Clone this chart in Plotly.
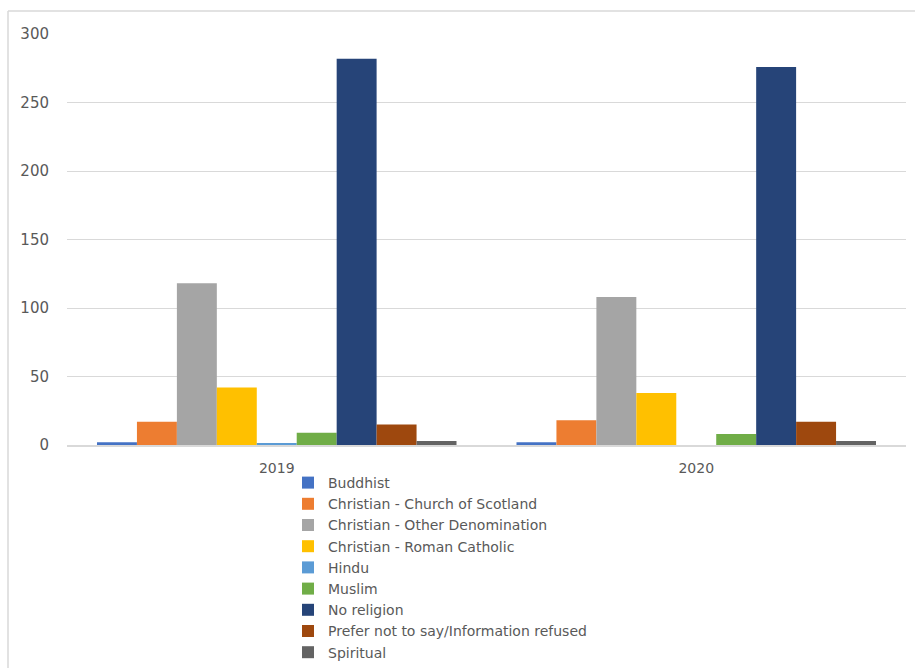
import plotly.graph_objects as go

years = ["2019", "2020"]
series_names = [
    "Buddhist",
    "Christian - Church of Scotland",
    "Christian - Other Denomination",
    "Christian - Roman Catholic",
    "Hindu",
    "Muslim",
    "No religion",
    "Prefer not to say/Information refused",
    "Spiritual",
]
buddhist = [2, 2]
church_of_scotland = [17, 18]
other_denomination = [118, 108]
roman_catholic = [42, 38]
hindu = [1.5, 0]
muslim = [9, 8]
no_religion = [282, 276]
prefer_not = [15, 17]
spiritual = [3, 3]
series_values = [buddhist, church_of_scotland, other_denomination, roman_catholic,
                 hindu, muslim, no_religion, prefer_not, spiritual]
colors = ["#4472C4", "#ED7D31", "#A5A5A5", "#FFC000", "#5B9BD5",
          "#70AD47", "#264478", "#9E480E", "#636363"]
y_ticks = [0, 50, 100, 150, 200, 250, 300]

fig = go.Figure()
for name, vals, col in zip(series_names, series_values, colors):
    fig.add_trace(go.Bar(name=name, x=years, y=vals, marker_color=col,
                         marker_line_width=0))

W, H = 915, 668
L, R, T, B = 67, 9, 34, 223
pw, ph = W - L - R, H - T - B

def px_x(p):
    return (p - L) / pw

def px_y(p):
    return (H - B - p) / ph

fig.update_layout(
    width=W, height=H,
    margin=dict(l=L, r=R, t=T, b=B, autoexpand=False),
    paper_bgcolor="white", plot_bgcolor="white",
    barmode="group", bargap=0.143, bargroupgap=0,
    font=dict(family="DejaVu Sans, Arial, sans-serif", color="#595959", size=14),
    showlegend=True,
    legend=dict(orientation="v", x=px_x(288), y=px_y(467), xanchor="left", yanchor="top",
                font=dict(size=14, color="#595959"), traceorder="normal",
                itemwidth=30, tracegroupgap=0, bgcolor="rgba(0,0,0,0)"),
    xaxis=dict(showgrid=False, showline=True, linecolor="#D9D9D9", linewidth=2,
               ticks="outside", ticklen=9, tickcolor="rgba(0,0,0,0)",
               tickfont=dict(size=14, color="#595959")),
    yaxis=dict(range=[0, 300], tickvals=y_ticks, showgrid=True, gridcolor="#D9D9D9",
               gridwidth=1, zeroline=False, showline=False, ticks="outside",
               ticklen=14, tickcolor="rgba(0,0,0,0)",
               tickfont=dict(size=15, color="#595959")),
    shapes=[
        dict(type="line", xref="paper", yref="paper", x0=px_x(8), x1=px_x(8),
             y0=px_y(11), y1=px_y(700), line=dict(color="#D9D9D9", width=1.5)),
        dict(type="line", xref="paper", yref="paper", x0=px_x(8), x1=px_x(930),
             y0=px_y(11), y1=px_y(11), line=dict(color="#D9D9D9", width=1.5)),
    ],
)

fig.write_html("out.html", config={"displayModeBar": False},
               post_script="document.body.style.margin='0';")
